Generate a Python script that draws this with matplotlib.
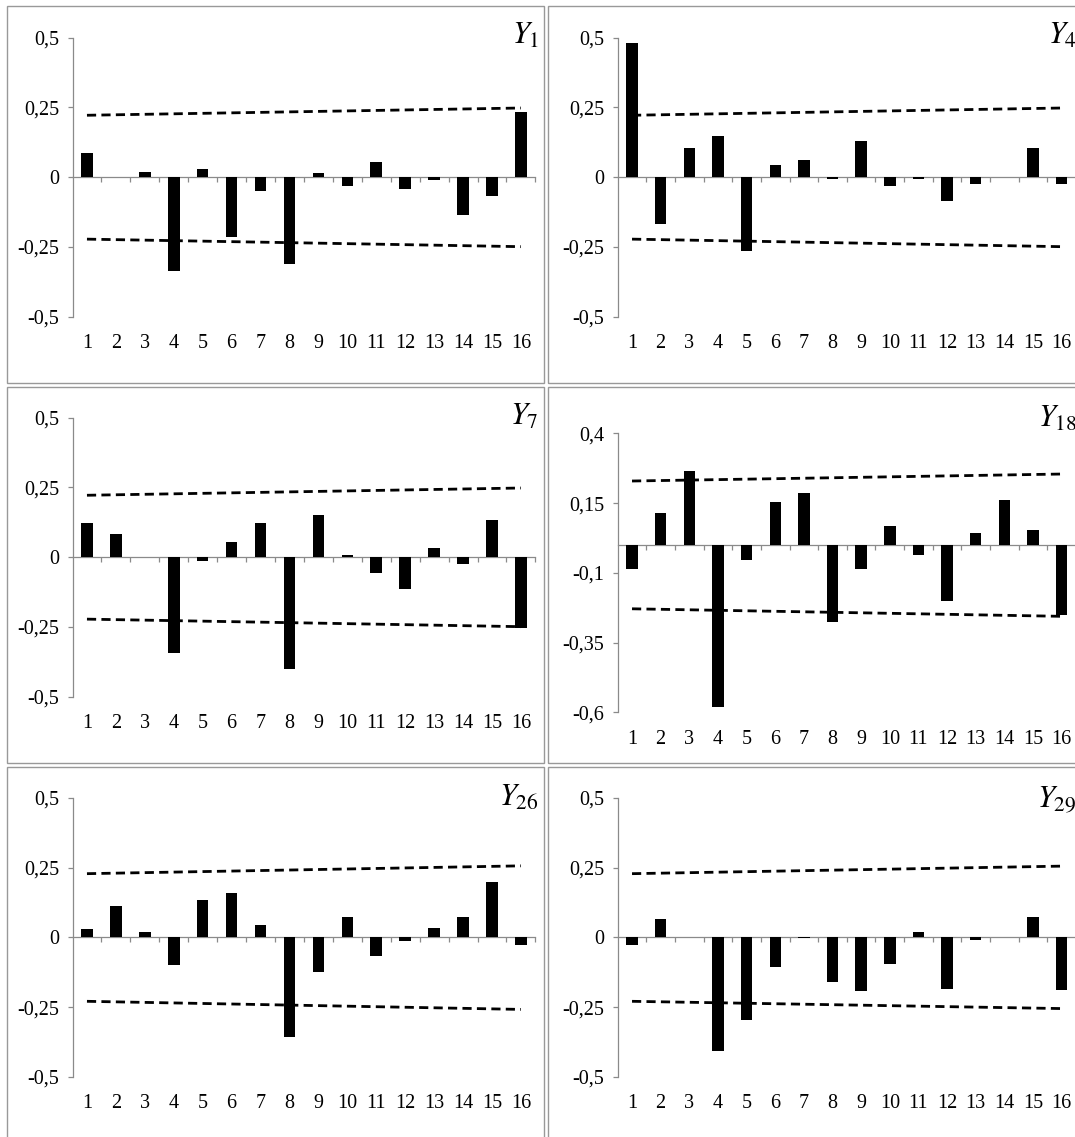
import matplotlib
matplotlib.use("Agg")
import matplotlib.pyplot as plt
from matplotlib.patches import Rectangle

plt.rcParams['font.family'] = ['Liberation Serif', 'DejaVu Serif']
plt.rcParams['mathtext.fontset'] = 'stix'

lags = list(range(1, 17))
lag_labels = [str(k) for k in lags]

titles = ["Y_{1}", "Y_{4}", "Y_{7}", "Y_{18}", "Y_{26}", "Y_{29}"]

y1 = [0.087, 0.002, 0.017, -0.337, 0.029, -0.215, -0.049, -0.311,
      0.016, -0.031, 0.053, -0.042, -0.011, -0.135, -0.066, 0.233]
y4 = [0.481, -0.168, 0.106, 0.147, -0.266, 0.045, 0.062, -0.007,
      0.130, -0.031, -0.006, -0.084, -0.026, 0.001, 0.105, -0.024]
y7 = [0.124, 0.084, 0.002, -0.344, -0.014, 0.054, 0.124, -0.400,
      0.153, 0.007, -0.055, -0.113, 0.032, -0.025, 0.135, -0.254]
y18 = [-0.086, 0.115, 0.264, -0.580, -0.053, 0.152, 0.186, -0.276,
       -0.085, 0.068, -0.036, -0.200, 0.043, 0.161, 0.052, -0.250]
y26 = [0.029, 0.112, 0.018, -0.099, 0.134, 0.158, 0.045, -0.358,
       -0.125, 0.072, -0.068, -0.013, 0.035, 0.072, 0.199, -0.026]
y29 = [-0.026, 0.066, 0.0, -0.406, -0.295, -0.107, -0.002, -0.160,
       -0.193, -0.094, 0.020, -0.186, -0.008, 0.001, 0.073, -0.190]
series = [y1, y4, y7, y18, y26, y29]

# confidence band (value at lag 1, value at lag 16)
band_upper = [(0.222, 0.248), (0.222, 0.248), (0.222, 0.248),
              (0.229, 0.254), (0.228, 0.256), (0.228, 0.255)]
band_lower = [(-0.222, -0.249), (-0.222, -0.249), (-0.222, -0.249),
              (-0.229, -0.256), (-0.229, -0.258), (-0.229, -0.255)]

ticks_std = [0.5, 0.25, 0, -0.25, -0.5]
ticklabels_std = ["0,5", "0,25", "0", "-0,25", "-0,5"]
ticks_18 = [0.4, 0.15, -0.1, -0.35, -0.6]
ticklabels_18 = ["0,4", "0,15", "-0,1", "-0,35", "-0,6"]
yticks = [ticks_std, ticks_std, ticks_std, ticks_18, ticks_std, ticks_std]
yticklabels = [ticklabels_std, ticklabels_std, ticklabels_std, ticklabels_18,
               ticklabels_std, ticklabels_std]

W, H = 1075, 1137
fig = plt.figure(figsize=(W / 100, H / 100), dpi=100)

def fr(l, t, r, b):
    return [l / W, 1 - b / H, (r - l) / W, (b - t) / H]

axes_px = [(72.5, 37.7, 535.4, 316.7), (617.7, 37.7, 1076, 316.7),
           (72.5, 417.7, 535.4, 696.7), (617.7, 433.3, 1076, 712.3),
           (72.5, 797.7, 535.4, 1077), (617.7, 797.7, 1076, 1077)]
boxes_px = [(7, 6, 544, 383), (548, 6, 1090, 383),
            (7, 387, 544, 763), (548, 387, 1090, 763),
            (7, 767, 544, 1150), (548, 767, 1090, 1150)]
title_px = [(539, 22), (1077, 22), (539, 403), (1077, 405), (539, 784), (1077, 784)]

gray = '#8a8a8a'
for (l, t, r, b) in boxes_px:
    fig.patches.append(Rectangle((l / W, 1 - b / H), (r - l) / W, (b - t) / H,
                                 transform=fig.transFigure, fill=False,
                                 edgecolor='#999999', linewidth=1.0))

for i in range(6):
    ax = fig.add_axes(fr(*axes_px[i]))
    ax.patch.set_visible(False)
    yt = yticks[i]
    ax.set_ylim(min(yt), max(yt))
    ax.set_xlim(0.5, 16.5)
    ax.bar(lags, series[i], width=0.4, color='black', zorder=3)
    ax.plot([lags[0], lags[-1]], list(band_upper[i]), color='black', lw=2.0,
            dashes=(3.3, 1.9), zorder=4)
    ax.plot([lags[0], lags[-1]], list(band_lower[i]), color='black', lw=2.0,
            dashes=(3.3, 1.9), zorder=4)
    for s in ['top', 'right']:
        ax.spines[s].set_visible(False)
    ax.spines['left'].set_color(gray)
    ax.spines['left'].set_linewidth(0.9)
    ax.spines['bottom'].set_position(('data', 0))
    ax.spines['bottom'].set_color(gray)
    ax.spines['bottom'].set_linewidth(0.9)
    ax.set_yticks(yt)
    ax.set_yticklabels(yticklabels[i])
    ax.set_xticks([k + 0.5 for k in lags])
    ax.set_xticklabels([])
    ax.tick_params(axis='both', direction='out', length=3.8, width=0.9,
                   color=gray, labelsize=14.5, labelcolor='black')
    ax.tick_params(axis='y', pad=6)
    ax.set_zorder(2)
    hpx = axes_px[i][3] - axes_px[i][1]
    for k, lab in zip(lags, lag_labels):
        ax.text(k, -27 / hpx, lab, transform=ax.get_xaxis_transform(),
                ha='center', va='center', fontsize=14.5)
    tx, ty = title_px[i]
    fig.text(tx / W, 1 - ty / H, '$' + titles[i] + '$', ha='right', va='top',
             fontsize=22)

fig.savefig('out.png', dpi=100)
